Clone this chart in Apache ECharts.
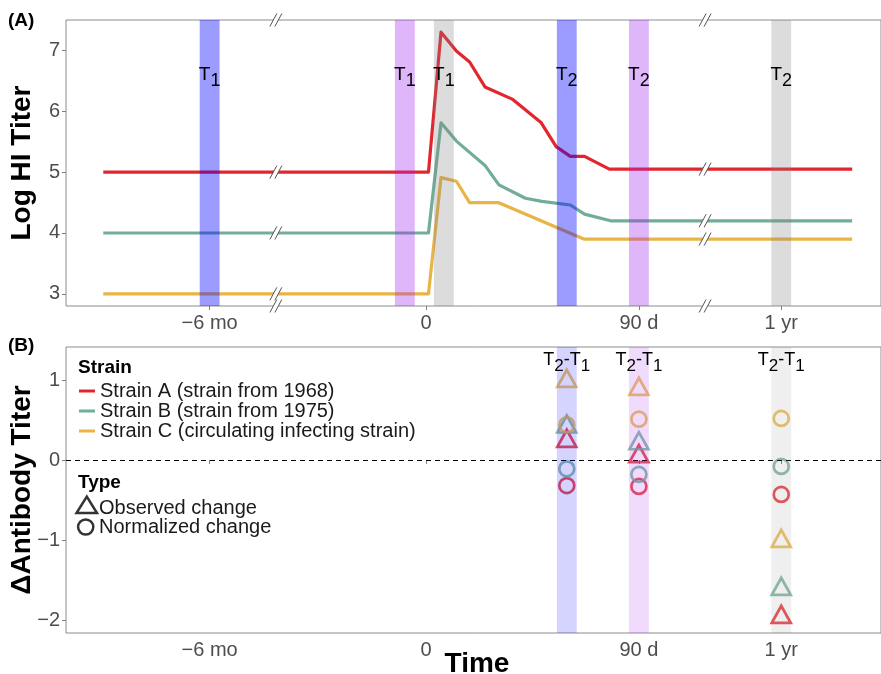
<!DOCTYPE html>
<html>
<head>
<meta charset="utf-8">
<script src="https://cdn.jsdelivr.net/npm/echarts@6.0.0/dist/echarts.min.js"></script>
<style>
  html, body { margin: 0; padding: 0; background: #fff; }
  #chart { width: 881px; height: 674px; }
</style>
</head>
<body>
<div id="chart"></div>
<script>
// ---------------- DATA ----------------
// time axis ticks (days relative to infection)
const tickDays = [-180, 0, 90, 365];
const tickLabels = ['\u22126 mo', '0', '90 d', '1 yr'];

// Panel A: log HI titer trajectories (day, titer)
const strainA_days  = [-225, 1, 6.3, 12.8, 18.4, 24.9, 36.4, 48.7, 55, 61, 67, 77.5, 395];
const strainA_titer = [5.0, 5.0, 7.30, 6.99, 6.81, 6.40, 6.20, 5.81, 5.42, 5.26, 5.26, 5.05, 5.05];
const strainB_days  = [-225, 1, 6.3, 12.8, 24.9, 30.8, 42, 49, 61, 67, 78, 395];
const strainB_titer = [4.0, 4.0, 5.81, 5.51, 5.11, 4.79, 4.57, 4.52, 4.46, 4.31, 4.20, 4.20];
const strainC_days  = [-225, 1, 6.3, 12.8, 18.4, 30.5, 66.7, 395];
const strainC_titer = [3.0, 3.0, 4.91, 4.85, 4.50, 4.50, 3.90, 3.90];

const strainNames = ['Strain A (strain from 1968)', 'Strain B (strain from 1975)', 'Strain C (circulating infecting strain)'];
const strainColors = ['#e3262e', '#72ad99', '#e8b545'];

// Sampling windows (band centres in days) and labels
const bandDaysA   = [-180, -9, 7.5, 59.5, 90, 365];
const bandLabelsA = ['1', '1', '1', '2', '2', '2'];
const bandSchemeA = [0, 1, 2, 0, 1, 2];          // 0 blue, 1 purple, 2 grey
const bandDaysB   = [59.5, 90, 365];
const bandSchemeB = [0, 1, 2];
const bandHalfWidthDays = 4.2;

// Panel B: change in antibody titer (T2 - T1) at the three T2 times
const observedA   = [0.27, 0.08, -1.93];
const observedB   = [0.45, 0.24, -1.58];
const observedC   = [1.02, 0.92, -0.98];
const normalizedA = [-0.32, -0.33, -0.43];
const normalizedB = [-0.11, -0.18, -0.08];
const normalizedC = [0.44, 0.51, 0.52];

const yTicksA = [3, 4, 5, 6, 7];
const yTicksB = [-2, -1, 0, 1];

// ---------------- BROKEN TIME SCALE ----------------
const K = 2.37;                 // axis units per day
const breakDays = [[-152, -63], [118, 333]];
function tpos(d) {
  if (d <= -152) return 144 + (d + 180) * K;
  if (d < -63) { const a = tpos(-152), b = tpos(-63); return a + (b - a) * (d + 152) / 89; }
  if (d <= 118) return 361 + d * K;
  if (d < 333) { const a = tpos(118), b = tpos(333); return a + (b - a) * (d - 118) / 215; }
  return 717 + (d - 365) * K;
}
const tickPos = tickDays.map(tpos);
function labelFor(v) {
  let best = 0;
  tickPos.forEach((p, i) => { if (Math.abs(p - v) < Math.abs(tickPos[best] - v)) best = i; });
  return tickLabels[best];
}
function valueAt(days, vals, d) {
  for (let i = 0; i < days.length - 1; i++) {
    if (d >= days[i] && d <= days[i + 1]) {
      return vals[i] + (vals[i + 1] - vals[i]) * (d - days[i]) / (days[i + 1] - days[i]);
    }
  }
  return vals[vals.length - 1];
}

const FONT = '"Liberation Sans", Arial, Helvetica, sans-serif';
const A_MIN = 2.8, A_MAX = 7.5;
const B_MIN = -2.1625, B_MAX = 1.4125;

const bandColorsA = ['rgba(0,0,255,0.39)', 'rgba(160,32,240,0.33)', 'rgba(128,128,128,0.28)'];
const bandColorsB = ['rgba(0,0,255,0.17)', 'rgba(160,32,240,0.16)', 'rgba(128,128,128,0.13)'];

function lineData(days, vals) { return days.map((d, i) => [tpos(d), vals[i]]); }

// text with subscripts laid out token by token
const measureCtx = document.createElement('canvas').getContext('2d');
function subText(tokens, cx, cy, mainSize, subSize, subShift) {
  const parts = tokens.map(t => {
    const size = t.sub ? subSize : mainSize;
    const font = size + 'px ' + FONT;
    measureCtx.font = font;
    return { text: t.text, font: font, w: measureCtx.measureText(t.text).width, sub: t.sub };
  });
  const total = parts.reduce((s, p) => s + p.w, 0);
  let x = cx - total / 2;
  return parts.map(p => {
    const el = { type: 'text', style: { text: p.text, font: p.font, fill: '#000', x: x, y: cy + (p.sub ? subShift : 0), align: 'left', verticalAlign: 'middle' } };
    x += p.w;
    return el;
  });
}

function bandSeries(gridIdx, days, scheme, colors, tokensFn, labelDy, mainSize, subSize, subShift) {
  return {
    type: 'custom',
    xAxisIndex: gridIdx, yAxisIndex: gridIdx,
    z: 5, silent: true, clip: false,
    data: days.map((d, i) => [tpos(d - bandHalfWidthDays), tpos(d + bandHalfWidthDays), scheme[i]]),
    renderItem: function (params, api) {
      const cs = params.coordSys;
      const x1 = api.coord([api.value(0), A_MIN])[0];
      const x2 = api.coord([api.value(1), A_MIN])[0];
      const children = [
        { type: 'rect', shape: { x: x1, y: cs.y, width: x2 - x1, height: cs.height },
          style: { fill: colors[api.value(2)] } }
      ].concat(subText(tokensFn(params.dataIndex), (x1 + x2) / 2, cs.y + labelDy, mainSize, subSize, subShift));
      return { type: 'group', children: children };
    }
  };
}

// break marks (//) on borders and lines in panel A
const breakMarkData = [];
breakDays.forEach(([d0]) => {
  const u = tpos(d0);
  breakMarkData.push([u, A_MAX], [u, A_MIN]);
  breakMarkData.push([u, valueAt(strainA_days, strainA_titer, d0)]);
  breakMarkData.push([u, valueAt(strainB_days, strainB_titer, d0)]);
  breakMarkData.push([u, valueAt(strainC_days, strainC_titer, d0)]);
});

const scatterDefs = [
  { vals: observedA, c: 0, sym: 'triangle' }, { vals: observedB, c: 1, sym: 'triangle' }, { vals: observedC, c: 2, sym: 'triangle' },
  { vals: normalizedA, c: 0, sym: 'circle' }, { vals: normalizedB, c: 1, sym: 'circle' }, { vals: normalizedC, c: 2, sym: 'circle' }
];

const series = [];
[[strainA_days, strainA_titer], [strainB_days, strainB_titer], [strainC_days, strainC_titer]].forEach(([d, v], i) => {
  series.push({
    type: 'line', name: strainNames[i], xAxisIndex: 0, yAxisIndex: 0, z: 2,
    data: lineData(d, v), showSymbol: false, silent: true,
    lineStyle: { color: strainColors[i], width: 3.2, join: 'round' }
  });
});
series.push(bandSeries(0, bandDaysA, bandSchemeA, bandColorsA,
  i => [{ text: 'T' }, { text: bandLabelsA[i], sub: true }], 55, 19, 18, 6.5));
series.push({
  type: 'custom', xAxisIndex: 0, yAxisIndex: 0, z: 6, silent: true, clip: false,
  data: breakMarkData,
  renderItem: function (params, api) {
    const p = api.coord([api.value(0), api.value(1)]);
    const x = p[0], y = p[1];
    return {
      type: 'group',
      children: [
        { type: 'polygon', shape: { points: [[x - 6, y + 6.5], [x + 1, y - 6.5], [x + 6, y - 6.5], [x - 1, y + 6.5]] },
          style: { fill: '#fff' } },
        { type: 'line', shape: { x1: x - 6, y1: y + 6.5, x2: x + 1, y2: y - 6.5 }, style: { stroke: '#555', lineWidth: 1 } },
        { type: 'line', shape: { x1: x - 1, y1: y + 6.5, x2: x + 6, y2: y - 6.5 }, style: { stroke: '#555', lineWidth: 1 } }
      ]
    };
  }
});
scatterDefs.forEach((s, k) => {
  const ser = {
    type: 'scatter', xAxisIndex: 1, yAxisIndex: 1, z: 2, silent: true,
    symbol: s.sym, symbolSize: s.sym === 'triangle' ? [19, 17] : 15,
    itemStyle: { color: 'rgba(0,0,0,0)', borderColor: strainColors[s.c], borderWidth: 2.7 },
    data: bandDaysB.map((d, i) => [tpos(d), s.vals[i]])
  };
  if (k === 0) {
    ser.markLine = {
      silent: true, symbol: ['none', 'none'], label: { show: false },
      lineStyle: { color: '#000', type: [5, 4], width: 1 },
      data: [{ yAxis: 0 }]
    };
  }
  series.push(ser);
});
series.push(bandSeries(1, bandDaysB, bandSchemeB, bandColorsB,
  () => [{ text: 'T' }, { text: '2', sub: true }, { text: '-T' }, { text: '1', sub: true }], 13, 18, 17, 6));

function xAxisCfg(i) {
  return {
    type: 'value', gridIndex: i, min: 0, max: 817,
    axisLine: { show: false }, splitLine: { show: false },
    axisTick: { show: true, customValues: tickPos, length: 4, lineStyle: { color: '#7f7f7f' } },
    axisLabel: { customValues: tickPos, formatter: v => labelFor(v), color: '#4d4d4d', fontSize: 20, margin: 7, fontFamily: FONT }
  };
}
function yAxisCfg(i, mn, mx, ticks) {
  return {
    type: 'value', gridIndex: i, min: mn, max: mx,
    axisLine: { show: false }, splitLine: { show: false },
    axisTick: { show: true, customValues: ticks, length: 4, lineStyle: { color: '#7f7f7f' } },
    axisLabel: { customValues: ticks, formatter: v => String(v).replace('-', '\u2212'), color: '#4d4d4d', fontSize: 20, margin: 6, fontFamily: FONT }
  };
}

// legend drawing (panel B)
const legendChildren = [
  { type: 'text', x: 78, y: 368, style: { text: 'Strain', font: 'bold 19px ' + FONT, fill: '#000', verticalAlign: 'middle' } }
];
strainNames.forEach((n, i) => {
  const y = 391 + i * 20;
  legendChildren.push({ type: 'line', shape: { x1: 79, y1: y, x2: 95, y2: y }, style: { stroke: strainColors[i], lineWidth: 3 } });
  legendChildren.push({ type: 'text', x: 100, y: y, style: { text: n, font: '20px ' + FONT, fill: '#1a1a1a', verticalAlign: 'middle' } });
});
legendChildren.push({ type: 'text', x: 78, y: 483, style: { text: 'Type', font: 'bold 19px ' + FONT, fill: '#000', verticalAlign: 'middle' } });
legendChildren.push({ type: 'polygon', shape: { points: [[76.5, 513], [97, 513], [86.8, 496.5]] }, style: { fill: 'none', stroke: '#333', lineWidth: 2.5 } });
legendChildren.push({ type: 'text', x: 99, y: 508, style: { text: 'Observed change', font: '20px ' + FONT, fill: '#1a1a1a', verticalAlign: 'middle' } });
legendChildren.push({ type: 'circle', shape: { cx: 85.7, cy: 527, r: 7.6 }, style: { fill: 'none', stroke: '#333', lineWidth: 2.5 } });
legendChildren.push({ type: 'text', x: 99, y: 527, style: { text: 'Normalized change', font: '20px ' + FONT, fill: '#1a1a1a', verticalAlign: 'middle' } });

const graphic = [
  { type: 'text', x: 8, y: 21, style: { text: '(A)', font: 'bold 19px ' + FONT, fill: '#000', verticalAlign: 'middle' } },
  { type: 'text', x: 8, y: 346, style: { text: '(B)', font: 'bold 19px ' + FONT, fill: '#000', verticalAlign: 'middle' } },
  { type: 'text', x: 22, y: 163, rotation: Math.PI / 2,
    style: { text: 'Log HI Titer', font: 'bold 28px ' + FONT, fill: '#000', align: 'center', verticalAlign: 'middle' } },
  { type: 'text', x: 22, y: 490, rotation: Math.PI / 2,
    style: { text: '\u0394Antibody Titer', font: 'bold 28px ' + FONT, fill: '#000', align: 'center', verticalAlign: 'middle' } },
  { type: 'text', x: 477, y: 664,
    style: { text: 'Time', font: 'bold 28px ' + FONT, fill: '#000', align: 'center', verticalAlign: 'middle' } },
  { type: 'group', children: legendChildren, z: 10 }
];

const chart = echarts.init(document.getElementById('chart'), null, { renderer: 'canvas' });
chart.setOption({
  animation: false,
  backgroundColor: '#fff',
  textStyle: { fontFamily: FONT },
  grid: [
    { left: 66, right: -2, top: 20, height: 286, show: true, borderColor: '#8c8c8c', borderWidth: 1, backgroundColor: 'transparent' },
    { left: 66, right: -2, top: 347, height: 286, show: true, borderColor: '#8c8c8c', borderWidth: 1, backgroundColor: 'transparent' }
  ],
  xAxis: [xAxisCfg(0), xAxisCfg(1)],
  yAxis: [yAxisCfg(0, A_MIN, A_MAX, yTicksA), yAxisCfg(1, B_MIN, B_MAX, yTicksB)],
  series: series,
  graphic: graphic
});
</script>
</body>
</html>
